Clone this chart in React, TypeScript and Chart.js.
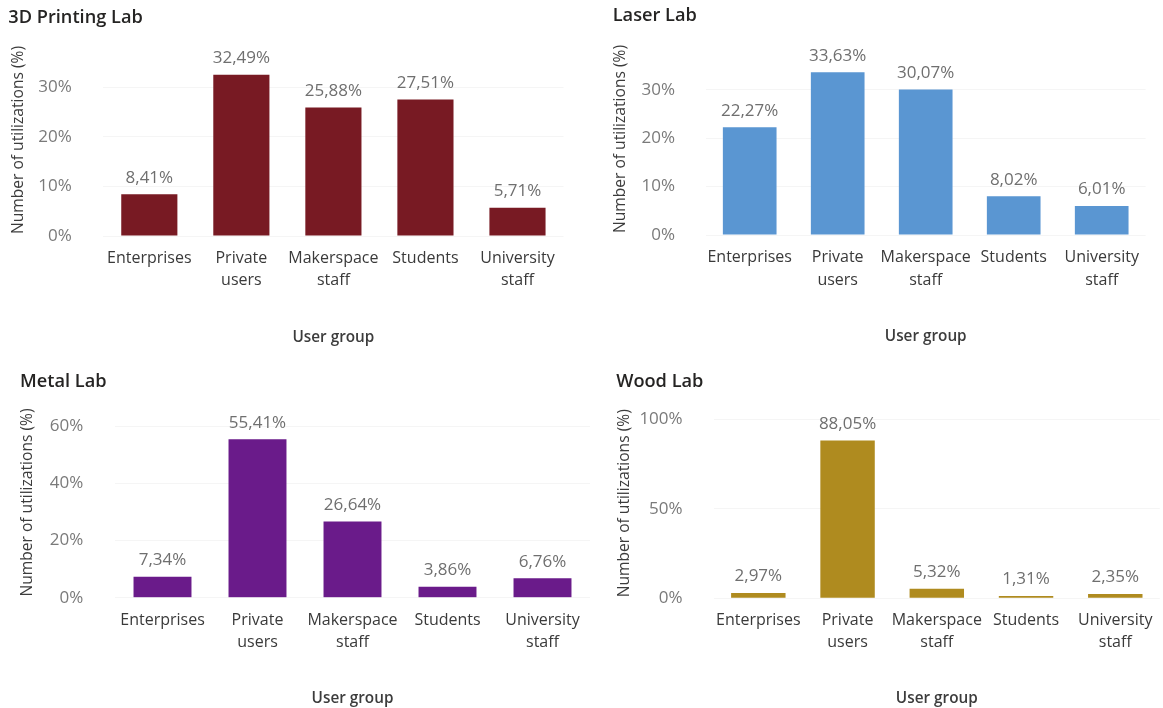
import React, { useEffect, useRef } from "react";
import { Chart, registerables } from "chart.js";

Chart.register(...registerables);

// Categories shared by all four labs (multi-line axis labels)
const userGroups: string[][] = [
  ["Enterprises"],
  ["Private", "users"],
  ["Makerspace", "staff"],
  ["Students"],
  ["University", "staff"],
];

// Share of utilizations per user group (%)
const printingLabValues = [8.41, 32.49, 25.88, 27.51, 5.71];
const laserLabValues = [22.27, 33.63, 30.07, 8.02, 6.01];
const metalLabValues = [7.34, 55.41, 26.64, 3.86, 6.76];
const woodLabValues = [2.97, 88.05, 5.32, 1.31, 2.35];

const labTitles = ["3D Printing Lab", "Laser Lab", "Metal Lab", "Wood Lab"];
const labColors = ["#781A23", "#5A96D2", "#6A1B8A", "#AF8B1F"];
const labValues = [printingLabValues, laserLabValues, metalLabValues, woodLabValues];

const yAxisTitle = "Number of utilizations (%)";
const xAxisTitle = "User group";

// Axis ranges: tick step and upper bound of each value axis
const yStepSizes = [10, 10, 20, 50];
const yUpperBounds = [38.7, 39.7, 66.6, 106];

type PanelLayout = {
  left: number;
  top: number;
  width: number;
  height: number;
  plotLeft: number;
  plotRight: number;
  plotTop: number;
  plotBottom: number;
  titleX: number;
  titleY: number;
  yTitleX: number;
  tickRight: number;
  xLabelY: number;
  xTitleY: number;
};

const layouts: PanelLayout[] = [
  { left: 0, top: 0, width: 585, height: 360, plotLeft: 103.3, plotRight: 563.5, plotTop: 44, plotBottom: 236,
    titleX: 8.3, titleY: 18, yTitleX: 19, tickRight: 71.7, xLabelY: 258.3, xTitleY: 338 },
  { left: 590, top: 0, width: 573, height: 360, plotLeft: 705.7, plotRight: 1145.7, plotTop: 43, plotBottom: 235,
    titleX: 612.7, titleY: 16, yTitleX: 621, tickRight: 675, xLabelY: 257.5, xTitleY: 336.7 },
  { left: 0, top: 365, width: 597, height: 343, plotLeft: 115, plotRight: 590, plotTop: 407.3, plotBottom: 597.7,
    titleX: 20, titleY: 382, yTitleX: 27, tickRight: 83.3, xLabelY: 620, xTitleY: 700 },
  { left: 600, top: 365, width: 563, height: 343, plotLeft: 713.7, plotRight: 1159.9, plotTop: 408.3, plotBottom: 598.3,
    titleX: 616.2, titleY: 382, yTitleX: 624.8, tickRight: 682.6, xLabelY: 620, xTitleY: 700 },
];

const FONT = "'Open Sans', 'Noto Sans', sans-serif";

const formatPercent = (v: number) => v.toFixed(2).replace(".", ",") + "%";

// Writes each bar's value above it
const valueLabels = {
  id: "valueLabels",
  afterDatasetsDraw(chart: any, _args: any, opts: any) {
    const ctx = chart.ctx;
    const meta = chart.getDatasetMeta(0);
    const data = chart.data.datasets[0].data as number[];
    ctx.save();
    ctx.font = `400 ${opts.size}px ${FONT}`;
    ctx.fillStyle = "#6f6f6f";
    ctx.textAlign = "center";
    ctx.textBaseline = "middle";
    meta.data.forEach((bar: any, i: number) => {
      ctx.fillText(formatPercent(data[i]), bar.x, bar.y - opts.gap);
    });
    ctx.restore();
  },
};

function LabPanel({ index }: { index: number }) {
  const ref = useRef<HTMLCanvasElement>(null);
  const L = layouts[index];

  useEffect(() => {
    if (!ref.current) return;
    const titleSize = 18.2;
    const titleLH = titleSize * 1.2;
    const yTitleSize = 15.6;
    const yTitleLH = yTitleSize;
    const xTitleSize = 15.3;
    const xTitleLH = xTitleSize * 1.2;
    const tickSize = 16;
    const tickLH = 22.5;
    const yTickSize = 17;

    const padLeft = L.titleX - L.left;
    const padRight = L.left + L.width - L.plotRight;
    const titlePadTop = Math.max(0, L.titleY - L.top - titleLH / 2);
    const titlePadBottom = L.plotTop - L.top - titleLH - titlePadTop;
    const yScaleWidth = L.plotLeft - L.left - padLeft;
    const yTitlePad = Math.max(0, L.yTitleX - L.left - padLeft - yTitleLH / 2);
    const xScaleHeight = L.top + L.height - L.plotBottom;
    const xTitlePadBottom = Math.max(0, L.top + L.height - L.xTitleY - xTitleLH / 2);
    const xTickOffset = L.xLabelY - L.plotBottom - tickLH / 2;

    const chart = new Chart(ref.current, {
      type: "bar",
      data: {
        labels: userGroups,
        datasets: [
          {
            data: labValues[index],
            backgroundColor: labColors[index],
            categoryPercentage: 1,
            barPercentage: 0.61,
          },
        ],
      },
      plugins: [valueLabels],
      options: {
        animation: false,
        responsive: false,
        events: [],
        layout: { padding: { left: padLeft, right: padRight, top: 0, bottom: 0 } },
        plugins: {
          legend: { display: false },
          tooltip: { enabled: false },
          title: {
            display: true,
            text: labTitles[index],
            align: "start",
            color: "#252423",
            font: { family: FONT, size: titleSize, weight: "600", lineHeight: 1.2 },
            padding: { top: titlePadTop, bottom: titlePadBottom },
          },
          valueLabels: { size: 17, gap: 16.5 },
        } as any,
        scales: {
          x: {
            grid: { display: false, drawTicks: true, tickLength: xTickOffset },
            border: { display: false },
            ticks: {
              color: "#3a3a3a",
              font: { family: FONT, size: tickSize, lineHeight: tickLH / tickSize },
              padding: 0,
              autoSkip: false,
              maxRotation: 0,
              minRotation: 0,
            },
            title: {
              display: true,
              text: xAxisTitle,
              color: "#3c3c3c",
              font: { family: FONT, size: xTitleSize, weight: "600", lineHeight: 1.2 },
              padding: { top: 0, bottom: xTitlePadBottom },
            },
            afterFit: (scale: any) => {
              scale.height = xScaleHeight;
            },
          },
          y: {
            min: 0,
            max: yUpperBounds[index],
            grid: { color: "rgba(0,0,0,0.04)", drawTicks: false },
            border: { display: false },
            ticks: {
              stepSize: yStepSizes[index],
              includeBounds: false,
              color: "#7a7a7a",
              font: { family: FONT, size: yTickSize },
              padding: L.plotLeft - L.tickRight,
              callback: (v: any) => `${v}%`,
            },
            title: {
              display: true,
              text: yAxisTitle,
              color: "#3c3c3c",
              font: { family: FONT, size: yTitleSize, lineHeight: 1 },
              padding: { top: yTitlePad, bottom: 0 },
            },
            afterFit: (scale: any) => {
              scale.width = yScaleWidth;
            },
          },
        },
      } as any,
    });
    return () => chart.destroy();
  }, [index]);

  return (
    <canvas
      ref={ref}
      width={L.width}
      height={L.height}
      style={{ position: "absolute", left: L.left, top: L.top, width: L.width, height: L.height, display: "block" }}
    />
  );
}

export default function App() {
  return (
    <div style={{ position: "absolute", left: 0, top: 0, width: 1163, height: 708, background: "#ffffff", overflow: "hidden" }}>
      {labTitles.map((_, i) => (
        <LabPanel key={i} index={i} />
      ))}
    </div>
  );
}
